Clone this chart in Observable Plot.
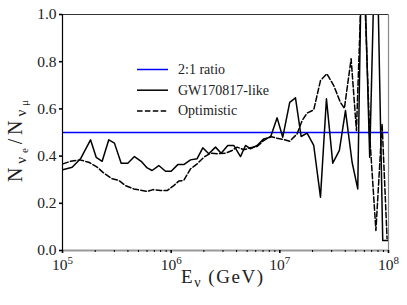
<!DOCTYPE html>
<html>
<head>
<meta charset="utf-8">
<script src="https://cdn.jsdelivr.net/npm/d3@7"></script>
<script src="https://cdn.jsdelivr.net/npm/@observablehq/plot@0.6"></script>
<style>
  html, body { margin: 0; padding: 0; background: white; font-family: 'Liberation Serif', serif; }
</style>
</head>
<body>
<div id="chart"></div>
<script>
// log10(E / GeV) and ratio values
const gwLogE = [5.003,5.089,5.168,5.258,5.310,5.365,5.426,5.478,5.540,5.601,5.662,5.724,5.779,5.825,5.886,5.948,6.000,6.061,6.116,6.178,6.239,6.291,6.346,6.408,6.460,6.521,6.576,6.638,6.684,6.730,6.791,6.852,6.914,6.975,7.027,7.091,7.144,7.196,7.251,7.312,7.374,7.429,7.487,7.548,7.604,7.665,7.717,7.760,7.827,7.886,7.947,7.993];
const gwRatio = [0.342,0.353,0.390,0.469,0.395,0.378,0.469,0.455,0.370,0.370,0.398,0.378,0.350,0.339,0.360,0.336,0.336,0.364,0.364,0.384,0.389,0.435,0.410,0.438,0.412,0.445,0.445,0.398,0.445,0.431,0.445,0.473,0.480,0.562,0.480,0.628,0.647,0.483,0.497,0.445,0.226,0.643,0.370,0.424,0.593,0.374,0.261,1.5,0.395,1.5,0.042,0.042];

const optLogE = [5.003,5.074,5.159,5.242,5.319,5.380,5.457,5.518,5.580,5.656,5.733,5.779,5.834,5.902,5.963,6.024,6.070,6.116,6.178,6.239,6.300,6.362,6.423,6.500,6.561,6.607,6.668,6.730,6.791,6.852,6.914,6.975,7.036,7.091,7.159,7.205,7.251,7.312,7.374,7.432,7.496,7.557,7.594,7.656,7.705,7.764,7.827,7.884,7.941,7.987];
const optRatio = [0.367,0.378,0.384,0.374,0.353,0.328,0.304,0.297,0.275,0.261,0.254,0.250,0.258,0.254,0.254,0.275,0.294,0.297,0.346,0.367,0.395,0.412,0.410,0.412,0.424,0.438,0.427,0.435,0.441,0.466,0.483,0.476,0.470,0.463,0.494,0.551,0.582,0.596,0.720,0.749,0.699,0.628,0.602,0.812,0.508,1.3,0.487,0.085,0.537,0.05];

const ratio21 = [0.5];
const seriesNames = ["2:1 ratio", "GW170817-like", "Optimistic"];
const xMajorTicks = [1e5, 1e6, 1e7, 1e8];
const yTicks = [0, 0.2, 0.4, 0.6, 0.8, 1.0];
const xDomain = [1e5, 1e8];
const yDomain = [0, 1];

const gw = gwLogE.map((l, i) => ({E: Math.pow(10, l), r: gwRatio[i]}));
const opt = optLogE.map((l, i) => ({E: Math.pow(10, l), r: optRatio[i]}));
const xMinorTicks = [];
for (let p = 5; p < 8; p++) for (let m = 2; m <= 9; m++) xMinorTicks.push(m * Math.pow(10, p));

const SERIF = "'Liberation Serif', serif";
const TEXT = "#222";

const svg = Plot.plot({
  width: 407,
  height: 305,
  marginLeft: 62,
  marginRight: 19,
  marginTop: 14,
  marginBottom: 55,
  x: {type: "log", domain: xDomain},
  y: {domain: yDomain},
  style: {fontSize: "15.5px", background: "white", color: "black"},
  marks: [
    Plot.ruleY(ratio21, {stroke: "#0000ff", strokeWidth: 1.5}),
    Plot.line(gw, {x: "E", y: "r", stroke: "black", strokeWidth: 1.5, clip: true}),
    Plot.line(opt, {x: "E", y: "r", stroke: "black", strokeWidth: 1.5, strokeDasharray: "5.5,2.4", clip: true}),
    Plot.ruleY([yDomain[1]], {stroke: "#333", strokeWidth: 1.2}),
    Plot.ruleX([xDomain[1]], {stroke: "#888", strokeWidth: 1.2}),
    Plot.ruleY([yDomain[0]], {stroke: "#999", strokeWidth: 1.8}),
    Plot.ruleX([xDomain[0]], {stroke: "black", strokeWidth: 1.2}),
    Plot.axisY({ticks: yTicks, tickSize: 3, tickPadding: 3, strokeWidth: 1.6, fill: TEXT, tickFormat: d3.format(".1f"), label: null}),
    Plot.axisX({ticks: xMinorTicks, tickSize: 2, strokeWidth: 1, tickFormat: () => "", label: null}),
    Plot.axisX({ticks: xMajorTicks, tickSize: 3, tickPadding: 5, strokeWidth: 1.6, fill: TEXT, tickFormat: d => "10^" + Math.round(Math.log10(d)), label: null})
  ]
});

const s = d3.select(svg);
s.attr("font-family", SERIF).style("font-family", SERIF);
// superscript exponents on x tick labels
s.selectAll('g[aria-label="x-axis tick label"] text').each(function() {
  const t = this.textContent;
  if (t.startsWith("10^")) {
    const e = t.slice(3);
    const sel = d3.select(this);
    sel.text("10");
    sel.append("tspan").attr("dy", "-0.5em").attr("font-size", "11px").text(e);
  }
});

// x label
const xl = s.append("text").attr("x", 222).attr("y", 283).attr("text-anchor", "middle")
  .attr("font-size", 19).attr("fill", TEXT)
  .attr("textLength", 82).attr("lengthAdjust", "spacing");
xl.append("tspan").text("E");
xl.append("tspan").attr("dy", 4).attr("font-size", 14).text("ν");
xl.append("tspan").attr("dy", -4).attr("font-size", 19).text(" (GeV)");

// y label
const yl = s.append("text").attr("transform", "translate(22,141) rotate(-90)").attr("text-anchor", "middle")
  .attr("font-size", 20).attr("fill", TEXT)
  .attr("textLength", 82).attr("lengthAdjust", "spacing");
yl.append("tspan").text("N");
yl.append("tspan").attr("dy", 4).attr("font-size", 15).text("ν");
yl.append("tspan").attr("dy", 2).attr("font-size", 11).text("e");
yl.append("tspan").attr("dy", -6).attr("font-size", 20).text("/N");
yl.append("tspan").attr("dy", 4).attr("font-size", 15).text("ν");
yl.append("tspan").attr("dy", 2).attr("font-size", 11).text("μ");

// legend
const legend = s.append("g").attr("font-size", 14).attr("text-anchor", "start");
const legStyles = [
  {stroke: "#0000ff", dash: null},
  {stroke: "black", dash: null},
  {stroke: "black", dash: "5.5,2.4"}
];
seriesNames.forEach((name, i) => {
  const y = 69.5 + i * 20.7;
  legend.append("line").attr("x1", 137).attr("x2", 168).attr("y1", y).attr("y2", y)
    .attr("stroke", legStyles[i].stroke).attr("stroke-width", 1.5)
    .attr("stroke-dasharray", legStyles[i].dash);
  legend.append("text").attr("x", 178).attr("y", y + 4.5).attr("text-anchor", "start").attr("fill", TEXT).text(name);
});

// force the serif face on every text element
s.selectAll("text, tspan").style("font-family", SERIF);

document.getElementById("chart").appendChild(svg);
</script>
</body>
</html>
